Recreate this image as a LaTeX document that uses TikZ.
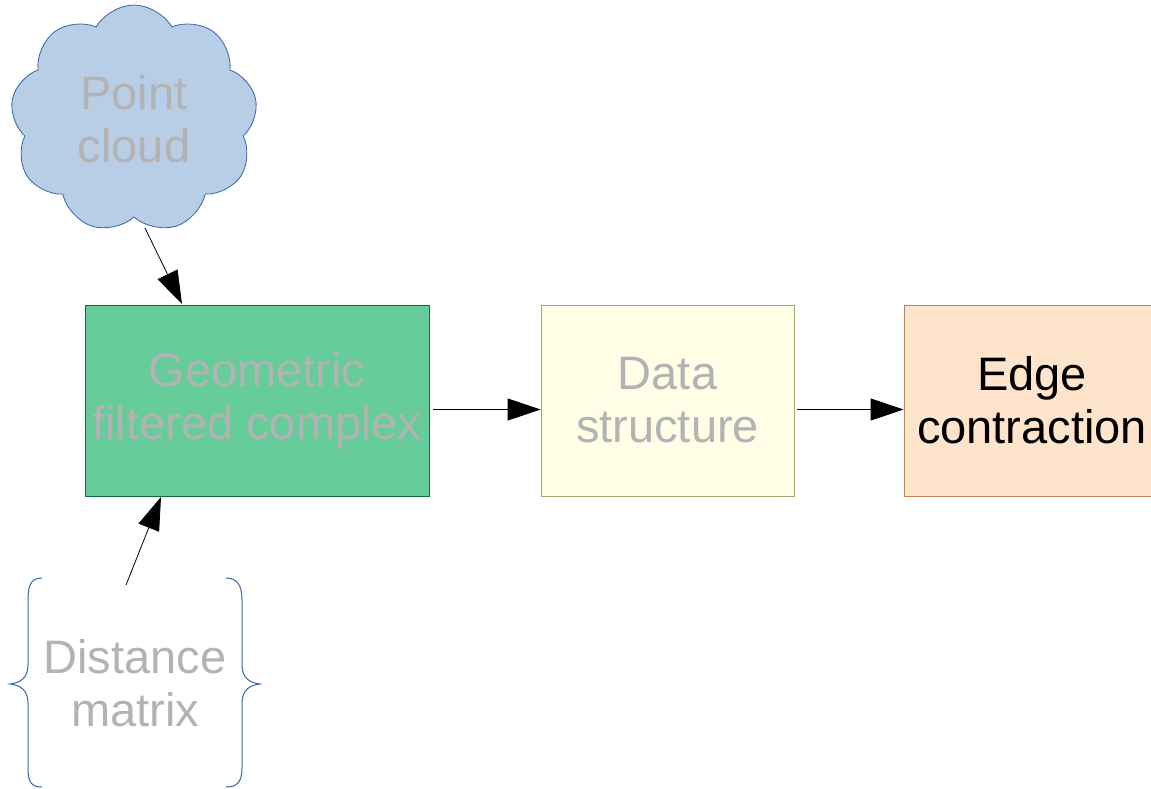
\documentclass[tikz,border=0pt]{standalone}
\usepackage{fontspec}
\setmainfont{Liberation Sans}
\usetikzlibrary{arrows.meta,shapes.symbols}
\definecolor{txtgrey}{RGB}{179,179,179}
\definecolor{cloudfill}{RGB}{184,206,230}
\definecolor{cloudline}{RGB}{52,101,164}
\definecolor{geofill}{RGB}{102,204,153}
\definecolor{geoline}{RGB}{20,110,60}
\definecolor{dsfill}{RGB}{255,255,232}
\definecolor{dsline}{RGB}{160,168,110}
\definecolor{ecfill}{RGB}{255,228,204}
\definecolor{ecline}{RGB}{185,135,95}
\tikzset{
  label text/.style={font=\fontsize{47}{53}\selectfont, align=center, text=txtgrey},
  stagebox/.style={rectangle, draw, line width=0.8pt, minimum height=191pt, inner sep=0pt},
  flow/.style={draw=black, line width=0.8pt, -{Triangle[length=33pt,width=22pt]}},
  bracestroke/.style={draw=cloudline, line width=1pt},
}
\begin{document}
\begin{tikzpicture}[x=1pt,y=-1pt]
  \useasboundingbox (0,0) rectangle (1151,788);
  \clip (0,0) rectangle (1151,788);

  % input: point cloud
  \node[cloud, cloud puffs=9, cloud puff arc=120, aspect=1.05,
        draw=cloudline, fill=cloudfill, line width=0.8pt,
        minimum width=247pt, minimum height=228pt, inner sep=0pt,
        label text] (pc) at (134,119) {Point\\cloud};

  % processing stages
  \node[stagebox, draw=geoline, fill=geofill, minimum width=344pt, label text]
        (geo) at (257,400.5) {Geometric\\filtered complex};
  \node[stagebox, draw=dsline, fill=dsfill, minimum width=253pt, label text]
        (ds) at (667.5,400.5) {Data\\structure};
  \node[stagebox, draw=ecline, fill=ecfill, minimum width=256pt, label text, text=black]
        (ec) at (1032,400.5) {Edge\\contraction};

  % input: distance matrix between braces
  \node[label text, minimum width=215pt, minimum height=210pt] (dm) at (135,683) {Distance\\matrix};
  \draw[bracestroke] (42,578) .. controls (31,578) and (28,585) .. (28,600)
        -- (28,665) .. controls (28,678) and (20,683) .. (10,684)
        .. controls (20,685) and (28,690) .. (28,703)
        -- (28,768) .. controls (28,782) and (31,787) .. (42,787);
  \draw[bracestroke] (226,578) .. controls (237,578) and (242,585) .. (242,600)
        -- (242,665) .. controls (242,678) and (250,683) .. (260,684)
        .. controls (250,685) and (242,690) .. (242,703)
        -- (242,768) .. controls (242,782) and (237,787) .. (226,787);

  % connector end points
  \coordinate (pcout) at (145,228);
  \coordinate (geoin) at (182,304);
  \coordinate (dmout) at (126,585);
  \coordinate (geoin2) at (161,497);

  % connectors
  \draw[flow] (pcout) -- (geoin);
  \draw[flow] (dmout) -- (geoin2);
  \draw[flow, shorten <=4pt] ([yshift=-9pt]geo.east) -- ([yshift=-9pt]ds.west);
  \draw[flow, shorten <=3pt] ([yshift=-9pt]ds.east) -- ([yshift=-9pt]ec.west);
\end{tikzpicture}
\end{document}
